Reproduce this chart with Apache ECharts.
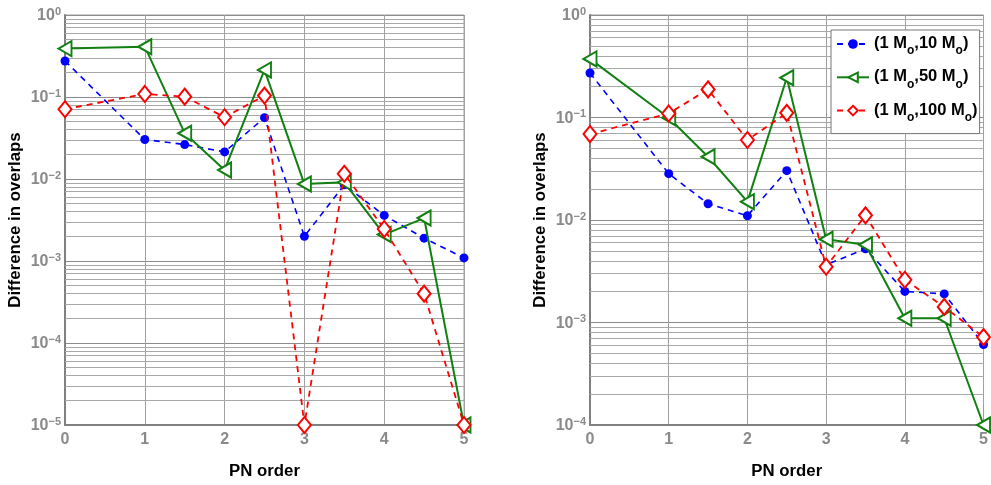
<!DOCTYPE html>
<html>
<head>
<meta charset="utf-8">
<script src="https://cdn.jsdelivr.net/npm/echarts@6/dist/echarts.min.js"></script>
<style>html,body{margin:0;padding:0;background:#fff}#c{width:991px;height:485px}</style>
</head>
<body>
<div id="c"></div>
<script>
// PN order positions
const pnOrder = [0, 1, 1.5, 2, 2.5, 3, 3.5, 4, 4.5, 5];
const seriesNames = ['(1 Mo,10 Mo)', '(1 Mo,50 Mo)', '(1 Mo,100 Mo)'];
const xTicks = [0, 1, 2, 3, 4, 5];

// Left panel values
const left10  = [0.275, 0.0303, 0.0263, 0.0214, 0.056, 0.0020, 0.0085, 0.0036, 0.0019, 0.00109];
const left50  = [0.389, 0.411, 0.0362, 0.0129, 0.214, 0.00867, 0.0091, 0.0021, 0.00334, 0.00001];
const left100 = [0.071, 0.109, 0.101, 0.0567, 0.104, 0.00001, 0.0116, 0.00245, 0.0004, 0.00001];

// Right panel values
const right10  = [0.272, 0.0283, 0.0144, 0.011, 0.0303, 0.00366, 0.00523, 0.00201, 0.0019, 0.00061];
const right50  = [0.373, 0.0993, 0.0414, 0.0151, 0.244, 0.0065, 0.00573, 0.0011, 0.0011, 0.0001];
const right100 = [0.0689, 0.1096, 0.188, 0.0603, 0.111, 0.0035, 0.0111, 0.00261, 0.00142, 0.00072];

const leftYRange = [1e-5, 1];
const rightYRange = [1e-4, 1];

function pairs(vals){ return pnOrder.map((x,i)=>[x, vals[i]]); }
function minorLines(range){
  const out=[];
  const lo=Math.round(Math.log10(range[0])), hi=Math.round(Math.log10(range[1]));
  for(let k=lo;k<hi;k++){ for(let m=2;m<=9;m++){ out.push({yAxis: m*Math.pow(10,k)}); } }
  return out;
}
const gray='#8a8a8a';
const FONT='Liberation Sans';
const styles = [
  {color:'#0000ff', type:[6,5], width:1.6, symbol:'circle', size:9, fill:'#0000ff', rot:0},
  {color:'#118011', type:'solid', width:2, symbol:'triangle', size:[15,13], fill:'#ffffff', rot:90},
  {color:'#ff0000', type:[6,5], width:1.8, symbol:'diamond', size:[13,16], fill:'#ffffff', rot:0}
];
function mkSeries(idx, vals, gi, withGrid, range){
  const st=styles[idx];
  const s = {
    name: seriesNames[idx], type:'line', xAxisIndex:gi, yAxisIndex:gi,
    data: pairs(vals), symbol: st.symbol, symbolSize: st.size, symbolRotate: st.rot,
    showSymbol:true, clip:true,
    lineStyle:{color:st.color, type:st.type, width:st.width},
    itemStyle:{color:st.fill, borderColor:st.color, borderWidth: idx===0?0:2},
    emphasis:{disabled:true}, animation:false, z: 3+idx
  };
  if(withGrid){
    s.markLine = {silent:true, symbol:'none', z:1, animation:false, precision:12,
      label:{show:false}, lineStyle:{color:'#a8a8a8', type:'solid', width:1},
      emphasis:{disabled:true}, data:minorLines(range)};
  }
  return s;
}
function yLabel(v){
  const e=Math.round(Math.log10(v));
  return '{b|10}{e|'+(e<0?'\u2212'+(-e):e)+'}';
}
const richY = {
  b:{fontFamily:FONT, fontWeight:'bold', fontSize:16, color:gray, verticalAlign:'bottom', lineHeight:18},
  e:{fontFamily:FONT, fontWeight:'bold', fontSize:11, color:gray, verticalAlign:'top', lineHeight:10, padding:[0,0,13,0]}
};
function xAxisOpt(gi){
  return {type:'value', gridIndex:gi, min:xTicks[0], max:xTicks[xTicks.length-1], interval:1,
    name:'PN order', nameLocation:'middle', nameGap:38,
    nameTextStyle:{fontFamily:FONT, fontWeight:'bold', fontSize:16.8, color:'#000'},
    axisLine:{show:true, onZero:false, lineStyle:{color:'#808080', width:2}},
    axisTick:{show:false},
    axisLabel:{fontFamily:FONT, fontWeight:'bold', fontSize:16, color:gray, margin:7},
    splitLine:{show:true, lineStyle:{color:'#a0a0a0', width:1}}
  };
}
function yAxisOpt(gi, range, gap){
  const span=Math.round(Math.log10(range[1]/range[0]));
  return {type:'log', logBase:10, gridIndex:gi, min:range[0], max:range[1], splitNumber:span,
    name:'Difference in overlaps', nameLocation:'middle', nameGap:gap,
    nameTextStyle:{fontFamily:FONT, fontWeight:'bold', fontSize:16.8, color:'#000'},
    axisLine:{show:true, lineStyle:{color:'#808080', width:2}},
    axisTick:{show:false}, minorTick:{show:false},
    axisLabel:{formatter:yLabel, rich:richY, margin:4},
    splitLine:{show:true, lineStyle:{color:'#8c8c8c', width:1}}
  };
}
const chart = echarts.init(document.getElementById('c'), null, {renderer:'canvas'});
chart.setOption({
  animation:false,
  backgroundColor:'#ffffff',
  grid:[
    {left:65, top:15, width:399, height:410.5, show:true, borderColor:'#a0a0a0', borderWidth:1, backgroundColor:'transparent'},
    {left:590, top:15, width:399, height:411, show:true, borderColor:'#a0a0a0', borderWidth:1, backgroundColor:'transparent'}
  ],
  xAxis:[xAxisOpt(0), xAxisOpt(1)],
  yAxis:[yAxisOpt(0, leftYRange, 41), yAxisOpt(1, rightYRange, 41)],
  legend:{
    data:seriesNames, orient:'vertical', left:831, top:30,
    backgroundColor:'#ffffff', borderColor:'#777777', borderWidth:1,
    padding:[5,2,4,5], itemGap:5.3, itemWidth:32, itemHeight:12,
    selectedMode:false,
    formatter:function(n){
      const m=n.match(/,(\d+)/)[1];
      return '{t|(1 M}{s|o}{t|,'+m+' M}{s|o}{t|)}';
    },
    textStyle:{rich:{
      t:{fontFamily:FONT, fontWeight:'bold', fontSize:16.5, color:'#000', verticalAlign:'top', lineHeight:18},
      s:{fontFamily:FONT, fontWeight:'bold', fontSize:12, color:'#000', verticalAlign:'top', lineHeight:12, padding:[10,0,6,0]}
    }}
  },
  series:[
    mkSeries(0, left10, 0, true, leftYRange),
    mkSeries(1, left50, 0, false),
    mkSeries(2, left100, 0, false),
    mkSeries(0, right10, 1, true, rightYRange),
    mkSeries(1, right50, 1, false),
    mkSeries(2, right100, 1, false)
  ]
});
</script>
</body>
</html>
